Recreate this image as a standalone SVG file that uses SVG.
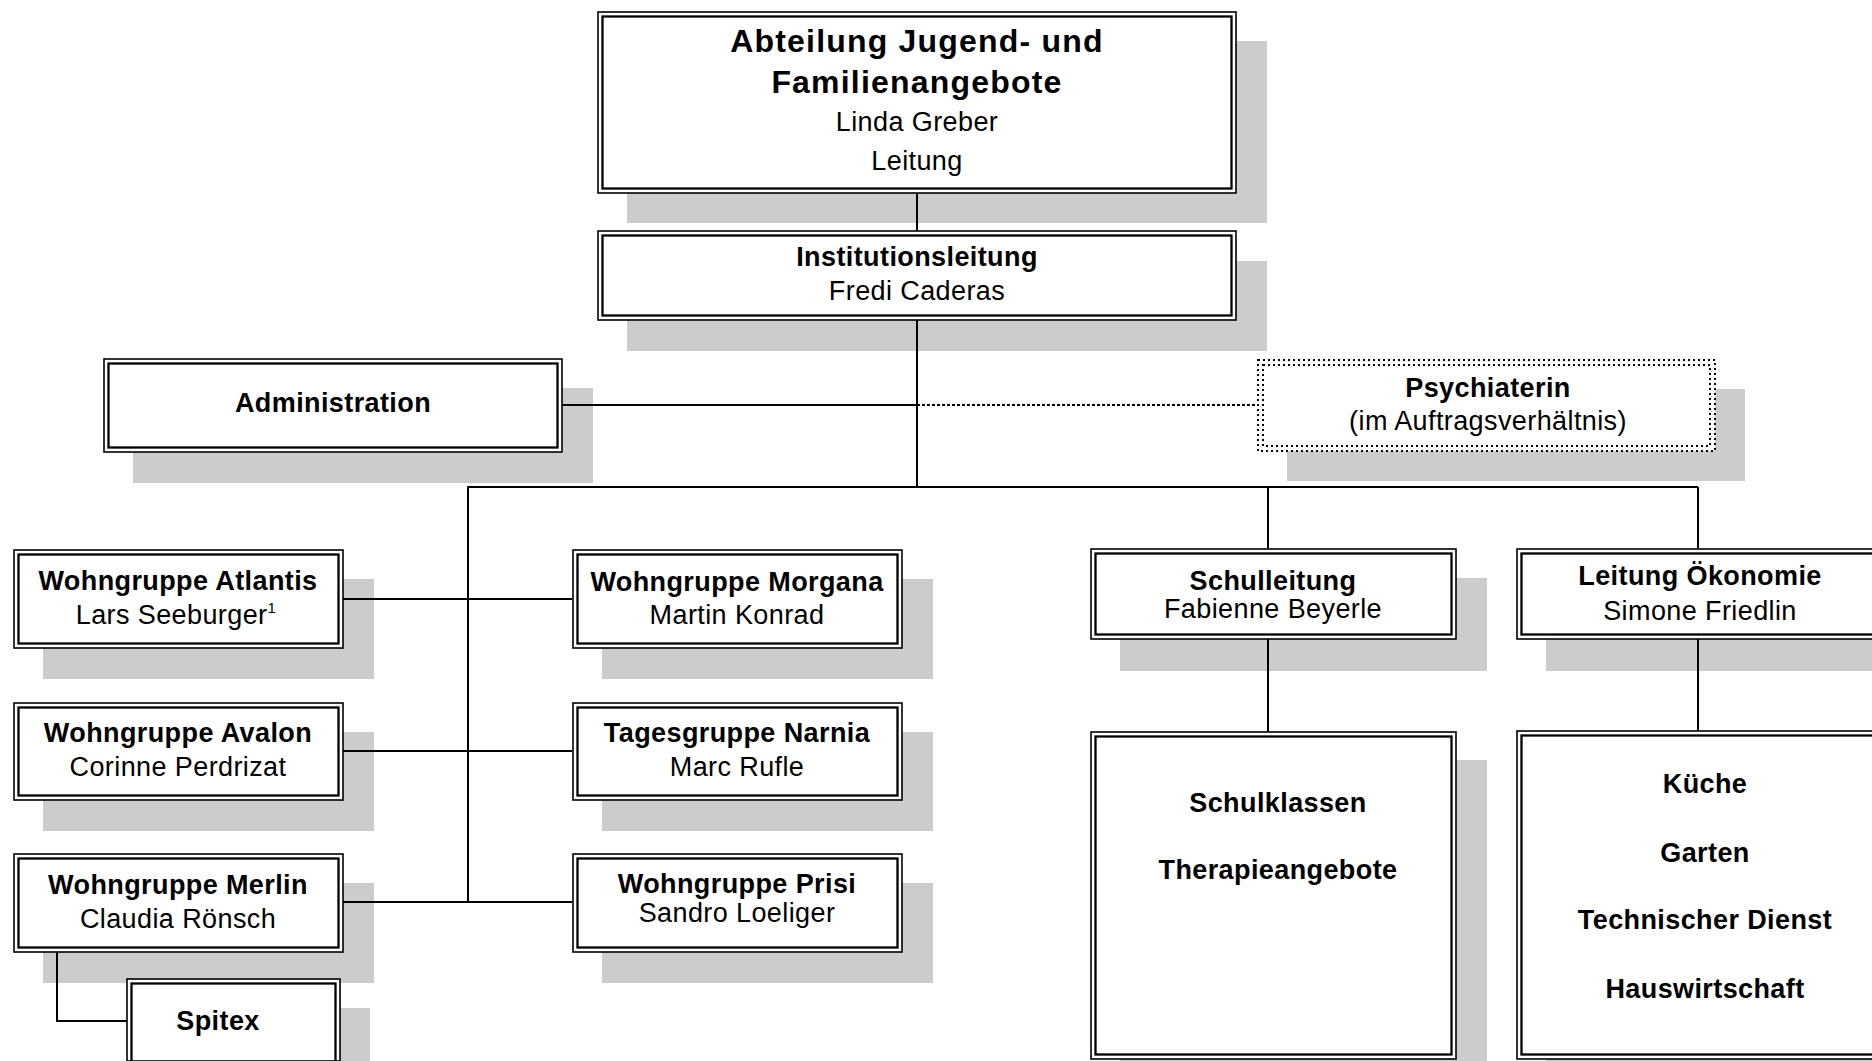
<svg xmlns="http://www.w3.org/2000/svg" width="1872" height="1061" viewBox="0 0 1872 1061">
<style>
.sh{fill:#cccccc}
.o{fill:#fff;stroke:#000;stroke-width:1.6}
.i{fill:none;stroke:#000;stroke-width:2.3}
.od{fill:#fff;stroke:#000;stroke-width:2;stroke-dasharray:2 3}
.id{fill:none;stroke:#000;stroke-width:2;stroke-dasharray:2 3}
.c{fill:none;stroke:#000;stroke-width:2}
.dc{fill:none;stroke:#000;stroke-width:2;stroke-dasharray:3 2}
text{font-family:"Liberation Sans",Arial,Helvetica,sans-serif;font-size:27px;text-anchor:middle;fill:#000;letter-spacing:0.4px}
.b{font-weight:bold}
.big{font-size:32px;font-weight:bold;letter-spacing:1.2px}
.sup{font-size:15px}
</style>
<rect width="1872" height="1061" fill="#fff"/>
<g id="shadows">
<rect class="sh" x="627" y="41" width="640" height="182"/>
<rect class="sh" x="627" y="261" width="640" height="90"/>
<rect class="sh" x="133" y="388" width="460" height="95"/>
<rect class="sh" x="1287" y="389" width="458" height="92"/>
<rect class="sh" x="43" y="579" width="331" height="100"/>
<rect class="sh" x="602" y="579" width="331" height="100"/>
<rect class="sh" x="43" y="732" width="331" height="99"/>
<rect class="sh" x="602" y="732" width="331" height="99"/>
<rect class="sh" x="43" y="883" width="331" height="100"/>
<rect class="sh" x="602" y="883" width="331" height="100"/>
<rect class="sh" x="157" y="1008" width="213" height="60"/>
<rect class="sh" x="1120" y="578" width="367" height="93"/>
<rect class="sh" x="1546" y="578" width="367" height="93"/>
<rect class="sh" x="1120" y="760" width="367" height="320"/>
<rect class="sh" x="1546" y="760" width="367" height="320"/>
</g>
<g id="connectors">
<line class="c" x1="917" y1="193" x2="917" y2="231"/>
<line class="c" x1="917" y1="320" x2="917" y2="487"/>
<line class="c" x1="562" y1="405" x2="917" y2="405"/>
<line class="dc" x1="917" y1="405" x2="1257" y2="405"/>
<line class="c" x1="467" y1="487" x2="1698" y2="487"/>
<line class="c" x1="468" y1="487" x2="468" y2="902"/>
<line class="c" x1="1268" y1="487" x2="1268" y2="548"/>
<line class="c" x1="1698" y1="487" x2="1698" y2="548"/>
<line class="c" x1="343" y1="599" x2="572" y2="599"/>
<line class="c" x1="343" y1="751" x2="572" y2="751"/>
<line class="c" x1="343" y1="902" x2="572" y2="902"/>
<line class="c" x1="1268" y1="639" x2="1268" y2="732"/>
<line class="c" x1="1698" y1="639" x2="1698" y2="731"/>
<polyline class="c" points="57,952 57,1021 127,1021"/>
</g>
<g id="n-abteilung">
<rect class="o" x="598" y="12" width="638" height="181"/>
<rect class="i" x="602.5" y="16.5" width="629" height="172"/>
<text class="big" x="917" y="52">Abteilung Jugend- und</text>
<text class="big" x="917" y="93">Familienangebote</text>
<text x="917" y="131">Linda Greber</text>
<text x="917" y="170">Leitung</text>
</g>
<g id="n-institutionsleitung">
<rect class="o" x="598" y="231" width="638" height="89"/>
<rect class="i" x="602.5" y="235.5" width="629" height="80"/>
<text class="b" x="917" y="266">Institutionsleitung</text>
<text x="917" y="300">Fredi Caderas</text>
</g>
<g id="n-administration">
<rect class="o" x="104" y="359" width="458" height="93"/>
<rect class="i" x="108.5" y="363.5" width="449" height="84"/>
<text class="b" x="333" y="412">Administration</text>
</g>
<g id="n-psychiaterin">
<rect class="od" x="1258" y="360" width="457" height="91"/>
<rect class="id" x="1263" y="365" width="447" height="81"/>
<text class="b" x="1488" y="397">Psychiaterin</text>
<text x="1488" y="430">(im Auftragsverhältnis)</text>
</g>
<g id="n-atlantis">
<rect class="o" x="14" y="550" width="329" height="98"/>
<rect class="i" x="18.5" y="554.5" width="320" height="89"/>
<text class="b" x="178" y="590">Wohngruppe Atlantis</text>
<text x="176" y="624">Lars Seeburger<tspan class="sup" dy="-11">1</tspan></text>
</g>
<g id="n-morgana">
<rect class="o" x="573" y="550" width="329" height="98"/>
<rect class="i" x="577.5" y="554.5" width="320" height="89"/>
<text class="b" x="737" y="591">Wohngruppe Morgana</text>
<text x="737" y="624">Martin Konrad</text>
</g>
<g id="n-avalon">
<rect class="o" x="14" y="703" width="329" height="97"/>
<rect class="i" x="18.5" y="707.5" width="320" height="88"/>
<text class="b" x="178" y="742">Wohngruppe Avalon</text>
<text x="178" y="776">Corinne Perdrizat</text>
</g>
<g id="n-narnia">
<rect class="o" x="573" y="703" width="329" height="97"/>
<rect class="i" x="577.5" y="707.5" width="320" height="88"/>
<text class="b" x="737" y="742">Tagesgruppe Narnia</text>
<text x="737" y="776">Marc Rufle</text>
</g>
<g id="n-merlin">
<rect class="o" x="14" y="854" width="329" height="98"/>
<rect class="i" x="18.5" y="858.5" width="320" height="89"/>
<text class="b" x="178" y="894">Wohngruppe Merlin</text>
<text x="178" y="928">Claudia Rönsch</text>
</g>
<g id="n-prisi">
<rect class="o" x="573" y="854" width="329" height="98"/>
<rect class="i" x="577.5" y="858.5" width="320" height="89"/>
<text class="b" x="737" y="893">Wohngruppe Prisi</text>
<text x="737" y="922">Sandro Loeliger</text>
</g>
<g id="n-spitex">
<rect class="o" x="127" y="979" width="213" height="82"/>
<rect class="i" x="131.5" y="983.5" width="204" height="80"/>
<text class="b" x="218" y="1030">Spitex</text>
</g>
<g id="n-schulleitung">
<rect class="o" x="1091" y="549" width="365" height="90"/>
<rect class="i" x="1095.5" y="553.5" width="356" height="81"/>
<text class="b" x="1273" y="590">Schulleitung</text>
<text x="1273" y="618">Fabienne Beyerle</text>
</g>
<g id="n-oekonomie">
<rect class="o" x="1517" y="549" width="366" height="90"/>
<rect class="i" x="1521.5" y="553.5" width="357" height="81"/>
<text class="b" x="1700" y="585">Leitung Ökonomie</text>
<text x="1700" y="620">Simone Friedlin</text>
</g>
<g id="n-schulklassen">
<rect class="o" x="1091" y="732" width="365" height="327"/>
<rect class="i" x="1095.5" y="736.5" width="356" height="318"/>
<text class="b" x="1278" y="812">Schulklassen</text>
<text class="b" x="1278" y="879">Therapieangebote</text>
</g>
<g id="n-oekonomie-bereiche">
<rect class="o" x="1517" y="731" width="370" height="328"/>
<rect class="i" x="1521.5" y="735.5" width="361" height="319"/>
<text class="b" x="1705" y="793">Küche</text>
<text class="b" x="1705" y="862">Garten</text>
<text class="b" x="1705" y="929">Technischer Dienst</text>
<text class="b" x="1705" y="998">Hauswirtschaft</text>
</g>
</svg>
